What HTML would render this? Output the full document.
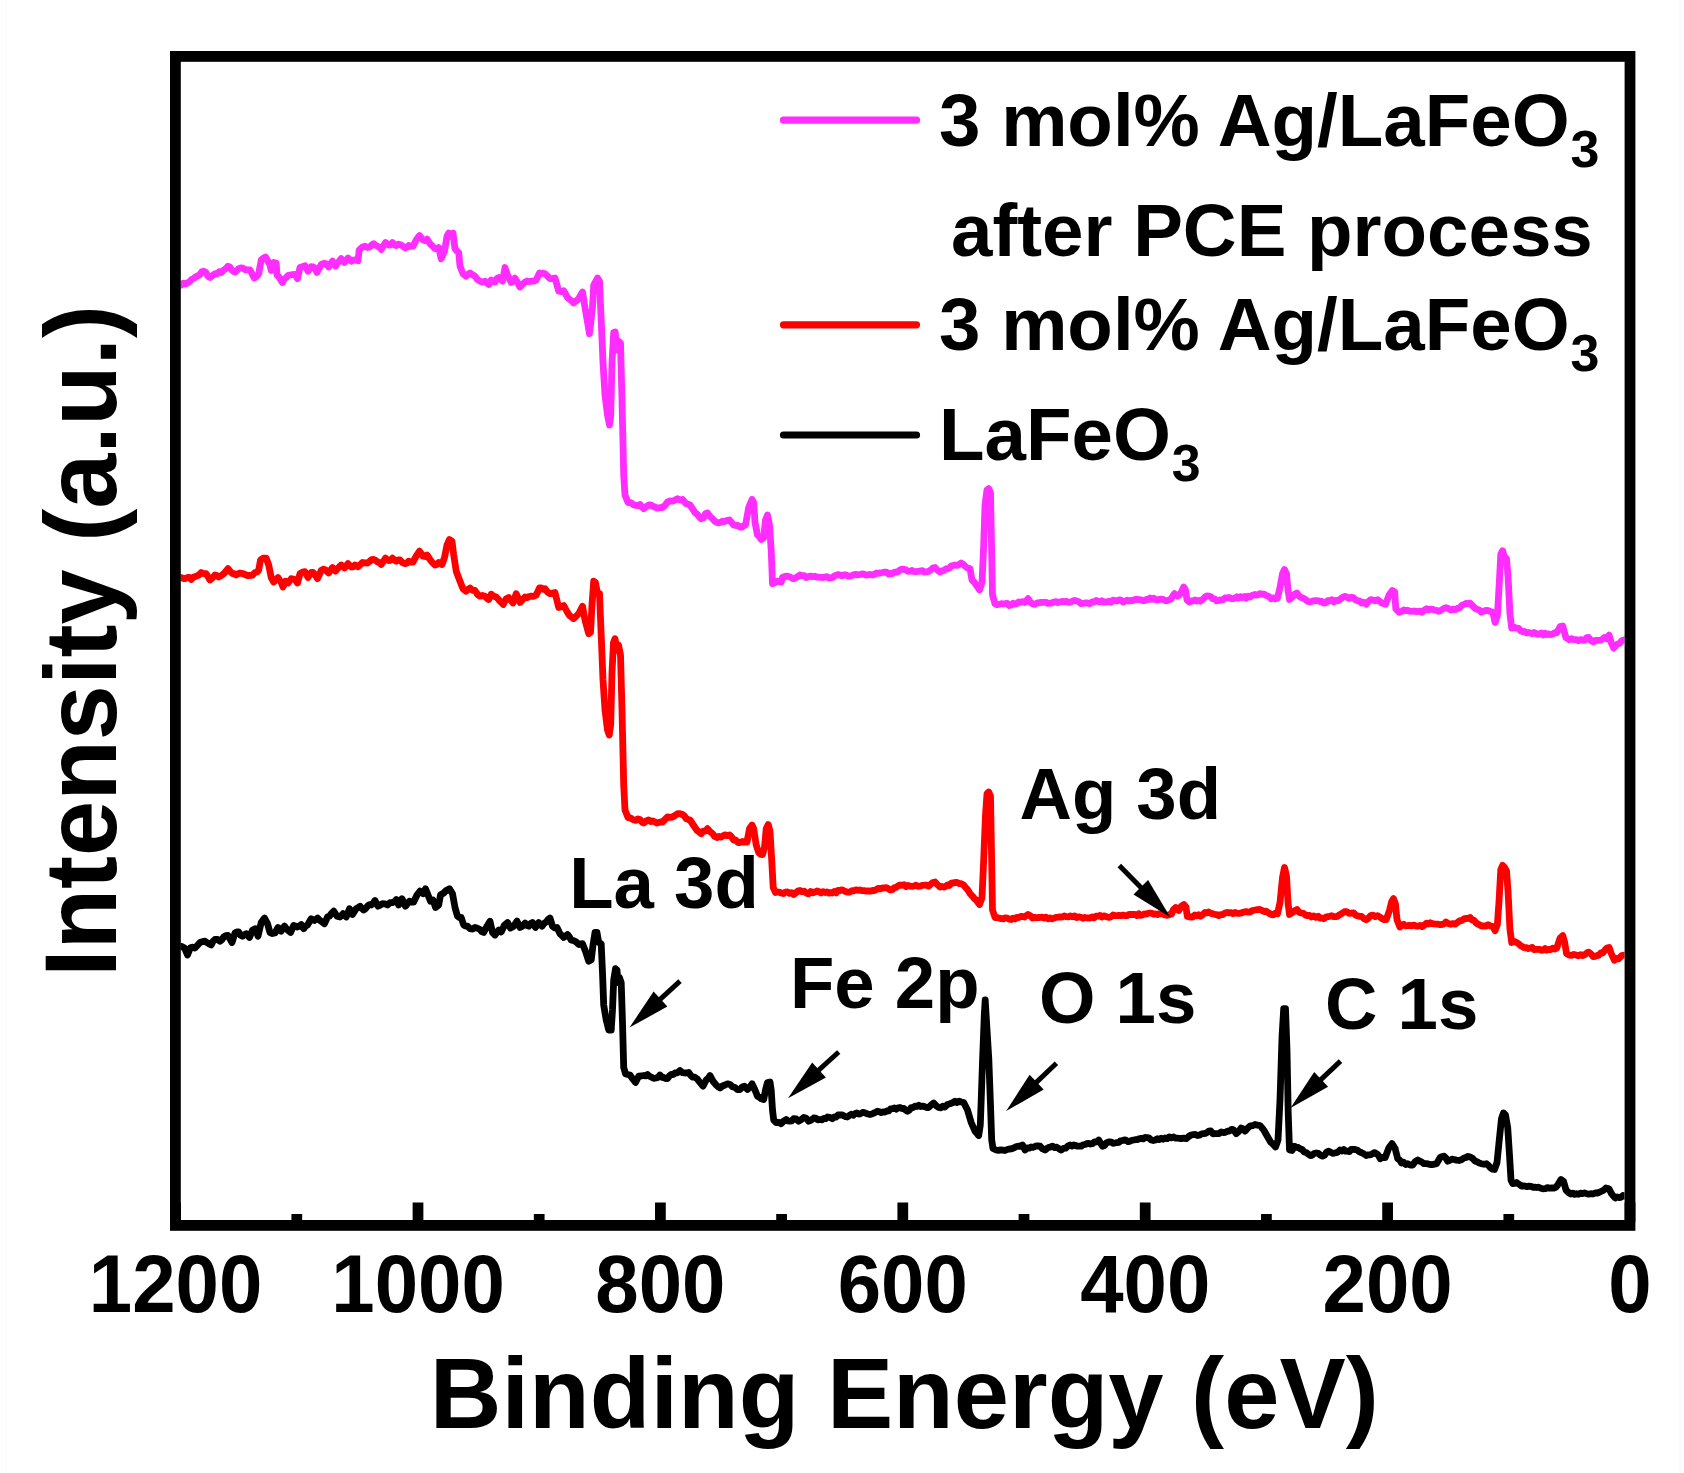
<!DOCTYPE html>
<html><head><meta charset="utf-8"><title>XPS survey spectra</title>
<style>html,body{margin:0;padding:0;background:#fff}figure{margin:0;width:1684px;height:1473px;overflow:hidden}svg{display:block}svg text{font-family:"Liberation Sans",sans-serif;font-weight:bold;fill:#000}</style></head>
<body>
<figure>
<svg width="1684" height="1473" viewBox="0 0 1684 1473" role="img" aria-label="XPS survey spectra of LaFeO3, 3 mol% Ag/LaFeO3 and 3 mol% Ag/LaFeO3 after PCE process">
<rect x="0" y="0" width="1684" height="1473" fill="#fff"/>
<rect x="1679" y="0" width="4" height="1473" fill="#fafbfd"/>
<rect x="6" y="0" width="1" height="1473" fill="#fbfbfd"/>
<defs><clipPath id="c"><rect x="180.5" y="62" width="1444" height="1158"/></clipPath></defs>
<g clip-path="url(#c)" fill="none" stroke-linejoin="round" stroke-linecap="round">
<polyline stroke="#ff2dff" stroke-width="6.8" points="181.2,285.0 183.4,283.2 185.6,283.9 187.8,282.7 190.0,281.2 192.0,279.2 193.9,278.3 195.9,276.8 197.8,275.8 199.8,274.7 201.7,271.7 203.7,271.2 205.8,272.3 207.9,276.1 210.0,277.5 212.5,275.5 215.0,273.7 217.1,273.9 219.1,271.8 221.2,272.5 223.5,270.3 225.7,268.8 228.0,266.2 229.9,267.1 231.8,270.1 233.6,271.4 235.5,272.0 238.7,268.7 240.8,267.9 242.9,268.2 245.0,269.5 247.5,269.8 250.0,270.0 254.2,278.0 256.4,276.8 258.7,273.7 261.2,260.0 263.4,258.2 265.5,257.0 270.0,265.0 271.2,270.5 273.7,262.5 276.2,263.0 277.0,275.0 278.8,276.9 280.7,279.8 282.5,282.5 284.4,279.0 286.2,277.5 288.1,275.6 290.0,275.0 292.5,274.6 295.0,274.5 297.5,278.7 300.0,267.5 302.5,266.6 305.0,265.7 308.0,271.2 311.2,266.7 313.1,266.8 315.0,268.0 317.0,272.5 321.2,264.5 323.7,263.5 326.2,263.7 328.7,267.0 332.5,261.2 335.5,266.2 337.4,263.1 339.3,261.1 341.2,258.7 344.5,262.5 348.0,258.0 351.2,261.2 353.1,260.1 355.0,260.0 358.0,260.7 359.2,250.0 362.5,247.0 365.0,246.2 367.5,247.5 369.6,247.0 371.6,245.1 373.7,243.7 375.6,245.3 377.5,246.2 379.4,247.2 381.2,249.5 385.5,242.5 388.7,245.0 390.6,244.8 392.5,242.5 394.4,244.8 396.2,245.5 398.1,244.2 400.0,244.5 402.5,245.9 405.0,248.0 406.9,247.2 408.7,245.5 410.9,246.3 413.0,246.2 416.2,240.0 419.5,235.5 423.0,240.0 425.0,240.6 427.0,239.2 430.0,243.7 432.5,246.0 435.0,248.7 436.9,248.8 438.7,247.5 441.2,258.7 444.5,251.2 447.0,236.2 448.7,233.0 450.5,236.2 453.0,233.0 455.0,248.7 456.9,251.0 458.7,252.5 460.0,266.2 463.0,273.7 466.2,276.2 468.1,274.2 470.0,273.0 472.5,274.8 475.0,276.2 477.5,279.5 480.0,281.2 482.5,282.0 485.0,281.2 486.9,282.9 488.7,284.5 491.2,280.0 493.1,281.2 495.0,282.0 496.9,278.7 498.7,277.5 500.6,278.8 502.5,281.2 505.0,267.5 507.0,273.7 511.2,282.5 513.1,281.0 515.0,278.2 520.0,287.0 522.5,284.3 525.0,282.0 527.1,281.0 529.1,281.6 531.2,281.2 533.7,281.0 536.2,280.0 539.5,273.0 541.3,273.6 543.2,273.2 545.0,273.7 547.5,276.1 550.0,278.7 552.5,278.4 555.0,278.0 558.7,291.2 561.2,291.6 563.7,290.7 567.5,297.5 569.6,299.4 571.6,300.9 573.7,303.0 576.2,300.8 578.7,298.7 582.5,292.0 585.0,307.5 589.5,333.7 592.5,307.5 593.7,285.0 597.5,278.0 599.5,281.2 601.2,320.0 603.0,362.5 605.0,395.0 607.5,415.0 609.5,425.0 610.7,415.0 612.0,362.5 613.7,332.5 615.2,332.0 617.0,350.0 618.5,341.2 620.5,343.0 622.0,400.0 623.7,475.0 625.0,495.0 628.0,502.5 629.9,502.3 631.8,503.2 633.7,505.0 635.8,505.3 637.9,505.7 640.0,504.5 641.9,506.8 643.7,508.7 646.2,506.6 648.7,505.0 650.8,504.9 652.9,506.3 655.0,507.0 656.9,508.2 658.8,507.8 660.6,507.5 662.5,507.5 665.0,505.5 667.5,502.0 670.0,501.0 672.5,501.2 675.0,500.0 677.5,498.7 680.0,500.1 682.5,499.5 684.4,501.8 686.2,503.7 688.1,504.3 690.0,505.0 695.0,512.5 697.1,514.1 699.1,516.7 701.2,518.7 703.3,517.8 705.4,513.8 707.5,513.0 710.0,516.5 712.5,518.7 714.8,521.3 717.0,522.5 718.8,522.9 720.7,522.2 722.5,521.2 724.8,521.5 727.2,520.4 729.5,520.0 731.6,522.6 733.7,525.0 735.8,525.5 737.9,525.4 740.0,527.0 741.8,527.1 743.7,525.8 745.5,525.0 748.7,507.5 752.0,499.5 753.7,502.5 755.0,522.5 757.5,535.0 759.4,536.6 761.2,539.5 763.7,537.5 765.5,520.0 767.5,515.0 769.5,525.0 771.2,550.0 772.5,583.7 775.0,582.5 777.5,581.2 779.4,581.6 781.2,582.0 782.5,577.5 785.0,576.5 787.5,576.2 789.6,576.7 791.6,578.0 793.7,578.7 795.8,577.7 797.9,576.5 800.0,575.0 802.1,575.7 804.1,575.6 806.2,577.5 808.4,576.6 810.6,576.1 812.8,576.7 815.0,576.2 817.0,577.2 819.0,577.2 821.0,577.3 823.0,577.5 825.0,577.0 826.9,576.6 828.8,578.0 830.6,577.8 832.5,577.5 834.4,576.0 836.2,575.2 838.1,574.6 840.0,575.0 842.0,575.8 844.0,574.9 846.0,574.9 848.0,576.2 850.0,576.2 852.0,575.5 854.0,574.6 856.0,574.4 858.0,574.9 860.0,574.5 862.1,573.9 864.2,574.2 866.2,575.2 868.3,574.7 870.4,574.5 872.5,575.0 874.5,574.4 876.5,573.0 878.5,573.3 880.5,572.8 882.5,572.5 884.5,572.1 886.5,572.1 888.5,574.1 890.5,573.5 892.5,573.7 894.4,572.1 896.2,572.1 898.1,571.6 900.0,570.0 902.0,569.2 904.0,569.4 906.0,569.9 908.0,571.4 910.0,571.2 912.0,570.5 914.0,571.7 916.0,571.6 918.0,571.3 920.0,571.2 922.2,570.6 924.4,572.2 926.5,571.9 928.7,571.2 930.8,570.0 932.9,568.1 935.0,567.5 937.5,570.1 940.0,572.0 941.9,570.9 943.8,570.5 945.6,569.1 947.5,568.7 949.4,568.1 951.2,565.9 953.1,565.5 955.0,565.0 957.1,565.4 959.1,564.5 961.2,563.0 963.1,564.2 965.0,566.2 967.5,568.2 970.0,568.7 972.0,580.0 974.1,582.1 976.2,585.0 979.5,590.0 982.0,582.5 983.7,545.0 985.0,505.0 987.0,490.0 988.7,488.7 990.5,492.5 991.5,545.0 992.5,595.0 995.0,603.7 997.1,604.7 999.1,604.2 1001.2,603.7 1003.2,603.8 1005.2,603.7 1007.2,603.4 1009.2,605.6 1011.2,605.0 1013.1,603.2 1015.0,604.2 1016.8,603.8 1018.7,602.0 1020.6,602.3 1022.6,601.6 1024.5,602.5 1028.0,598.7 1030.2,602.0 1032.5,603.7 1034.4,604.4 1036.2,603.5 1038.1,602.8 1040.0,602.5 1042.0,602.4 1044.0,602.4 1046.0,602.3 1048.0,603.4 1050.0,603.2 1052.0,602.8 1054.0,602.0 1056.0,601.6 1058.0,602.6 1060.0,602.0 1062.1,601.4 1064.2,601.7 1066.2,601.2 1068.3,602.3 1070.4,602.2 1072.5,601.2 1074.6,600.4 1076.7,601.1 1078.8,601.7 1080.8,603.5 1082.9,603.3 1085.0,603.0 1087.5,603.0 1090.0,603.7 1092.1,602.0 1094.1,602.0 1096.2,600.5 1098.1,601.4 1100.0,601.9 1101.8,600.8 1103.7,602.1 1105.6,601.9 1107.5,601.7 1109.4,601.4 1111.2,602.2 1113.1,600.2 1115.0,600.5 1117.0,601.1 1119.0,599.9 1121.0,600.2 1123.0,602.0 1125.0,601.2 1127.0,600.2 1129.0,601.1 1131.0,600.4 1133.0,600.6 1135.0,599.5 1136.9,599.5 1138.8,599.6 1140.6,599.8 1142.5,600.5 1144.4,600.7 1146.2,599.5 1148.1,599.6 1150.0,598.0 1151.9,599.4 1153.8,598.2 1155.6,599.6 1157.5,600.0 1159.4,599.3 1161.2,599.2 1163.1,599.4 1165.0,600.5 1167.1,600.7 1169.1,599.9 1171.2,598.7 1174.5,593.7 1177.5,596.2 1179.3,595.1 1181.2,592.5 1183.7,587.0 1185.5,590.0 1187.0,600.0 1189.5,602.0 1191.3,601.0 1193.2,600.9 1195.0,600.0 1196.8,601.0 1198.7,600.5 1200.5,601.2 1202.8,599.3 1205.0,597.0 1206.8,596.0 1208.7,596.2 1210.6,596.5 1212.5,598.7 1214.6,598.8 1216.6,600.8 1218.7,600.5 1220.8,599.8 1222.9,599.8 1225.0,598.0 1227.0,597.9 1229.0,597.5 1231.0,598.6 1233.0,598.7 1235.0,598.0 1236.9,596.8 1238.8,598.1 1240.6,596.7 1242.5,597.5 1244.4,596.5 1246.2,598.1 1248.1,596.1 1250.0,597.0 1252.5,595.2 1255.0,594.5 1257.5,595.2 1260.0,593.7 1262.1,594.1 1264.1,594.1 1266.2,595.5 1268.7,596.4 1271.2,598.7 1273.3,597.9 1275.4,598.8 1277.5,598.0 1280.0,587.5 1282.5,573.7 1284.5,569.5 1286.5,573.7 1288.0,590.0 1289.5,599.5 1292.5,597.0 1294.8,594.1 1297.0,593.0 1299.1,596.2 1301.2,597.5 1303.5,598.3 1305.7,599.7 1307.6,601.3 1309.5,601.8 1311.4,601.5 1313.7,600.8 1316.0,600.5 1318.3,600.8 1320.2,601.5 1322.1,601.5 1324.0,603.1 1325.9,602.7 1327.8,600.6 1329.7,600.8 1331.7,599.7 1333.7,601.9 1335.6,600.4 1337.6,600.8 1339.9,599.5 1342.2,597.7 1344.5,596.3 1346.8,597.0 1349.0,598.6 1351.3,597.3 1353.6,597.9 1355.5,599.8 1357.4,600.9 1359.3,600.8 1361.6,603.0 1363.9,602.3 1366.2,604.3 1368.5,601.4 1370.7,599.7 1373.0,600.0 1375.3,600.8 1377.6,599.7 1379.8,601.5 1382.1,603.1 1385.6,604.3 1389.0,595.1 1392.4,590.6 1394.7,591.7 1395.8,608.8 1399.2,612.3 1401.5,611.6 1403.8,610.0 1405.7,610.7 1407.6,610.2 1409.5,611.1 1411.8,611.4 1414.1,611.0 1416.4,611.6 1418.3,611.3 1420.2,611.1 1422.1,612.3 1424.3,610.1 1426.6,608.8 1428.5,610.0 1430.4,609.0 1432.3,609.3 1434.3,610.0 1436.3,610.3 1438.3,611.3 1440.3,610.7 1442.2,609.5 1444.1,608.3 1446.0,607.7 1448.3,608.5 1450.6,610.0 1452.9,609.1 1455.1,609.7 1457.4,608.4 1459.7,607.9 1462.0,605.2 1464.3,604.3 1466.2,603.5 1468.1,603.6 1470.0,603.1 1471.9,605.2 1473.8,607.1 1475.7,608.8 1477.6,609.4 1479.5,610.1 1481.4,612.3 1483.7,611.2 1485.9,610.3 1488.2,610.7 1490.5,611.6 1492.8,612.3 1495.1,622.5 1497.4,615.7 1499.0,588.3 1500.8,554.1 1502.6,550.7 1504.2,556.4 1506.5,558.6 1508.1,576.9 1509.9,613.4 1511.7,628.2 1514.2,627.3 1516.7,628.2 1518.6,628.4 1520.6,630.8 1522.5,631.7 1524.5,631.5 1526.5,632.9 1528.4,632.5 1530.4,632.8 1532.2,633.8 1534.1,632.5 1535.9,633.5 1537.8,634.3 1539.6,633.9 1541.4,633.0 1543.2,634.9 1545.1,633.2 1546.9,634.5 1548.7,633.9 1550.7,634.7 1552.7,634.1 1554.7,632.7 1556.7,632.8 1560.1,626.6 1562.8,626.0 1565.8,637.4 1569.2,639.6 1571.5,638.7 1573.8,639.6 1576.1,639.6 1578.4,640.8 1580.6,639.6 1582.9,640.3 1584.8,640.2 1586.7,637.6 1588.6,637.4 1590.9,640.6 1593.2,641.9 1595.1,640.3 1597.0,640.4 1598.9,640.3 1600.8,640.2 1602.7,639.0 1604.6,637.4 1606.9,639.0 1609.1,635.1 1611.4,643.1 1613.7,648.1 1617.1,644.2 1619.4,643.4 1621.7,640.8 1625.0,639.6"/>
<polyline stroke="#ff0000" stroke-width="6.8" points="181.2,577.5 183.3,578.5 185.4,578.5 187.5,577.5 189.3,577.5 191.2,579.5 193.7,576.9 196.2,576.2 198.7,575.1 201.2,572.5 203.7,573.6 206.2,573.7 210.0,580.0 212.5,577.9 215.0,575.0 216.8,575.6 218.7,577.0 221.2,575.6 223.7,573.7 225.8,571.4 228.0,568.7 230.2,571.4 232.5,573.7 234.3,573.6 236.2,575.0 238.1,573.8 240.0,573.0 242.5,573.5 245.0,574.5 247.5,575.5 250.0,575.5 252.5,575.1 255.0,572.5 256.9,572.2 258.7,570.0 260.5,560.0 263.0,558.2 266.2,558.2 268.7,565.0 271.2,577.5 273.7,582.0 275.9,579.8 278.0,577.5 281.2,582.5 283.0,587.0 285.5,581.2 288.0,583.0 291.2,578.7 293.1,579.0 295.0,579.5 297.5,583.0 300.0,573.7 302.5,572.2 305.0,571.7 308.0,577.5 311.2,572.5 313.1,572.5 315.0,574.5 317.5,578.7 321.2,570.5 323.4,569.2 325.5,570.0 328.7,573.0 330.6,570.2 332.5,567.5 335.5,571.2 337.4,568.7 339.3,566.8 341.2,565.0 344.5,568.0 348.0,563.7 351.2,567.0 353.1,566.9 355.0,565.0 358.0,566.7 360.2,564.7 362.5,562.5 365.0,562.9 367.5,563.0 369.6,561.3 371.6,559.6 373.7,559.5 375.6,560.4 377.5,562.0 379.4,562.5 381.2,564.5 383.4,561.4 385.5,558.2 388.7,560.5 390.6,560.4 392.5,558.2 394.4,560.1 396.2,561.2 398.1,559.9 400.0,560.0 402.5,562.7 405.0,563.7 406.9,563.1 408.7,561.2 410.9,562.1 413.0,562.0 416.2,556.2 419.5,551.2 423.0,556.2 425.0,556.5 427.0,555.0 430.0,559.5 432.5,562.8 435.0,565.0 436.9,564.4 438.7,562.5 442.0,564.5 444.5,557.5 447.0,545.0 449.5,539.5 452.0,541.2 453.7,555.0 456.2,571.2 460.0,581.2 463.0,588.7 466.2,591.2 468.1,589.3 470.0,588.0 472.5,590.3 475.0,590.5 477.5,594.4 480.0,596.2 482.5,595.5 485.0,596.2 486.9,598.4 488.7,599.5 491.2,594.2 493.7,596.1 496.2,597.0 498.1,599.0 500.0,601.2 503.2,604.5 506.2,598.7 508.7,597.5 510.9,600.3 513.0,603.0 516.2,593.7 520.0,602.5 522.5,599.7 525.0,597.0 527.1,597.7 529.1,596.5 531.2,596.2 533.7,596.3 536.2,595.0 539.5,588.0 541.3,587.9 543.2,589.3 545.0,588.7 547.5,592.1 550.0,593.7 552.5,593.0 555.0,592.5 558.7,607.5 561.2,606.6 563.7,605.5 567.5,612.5 569.6,615.5 571.6,617.1 573.7,618.7 576.2,616.2 578.7,613.7 582.5,606.2 585.0,620.0 588.7,633.7 590.5,632.5 592.0,605.0 593.7,581.2 595.5,582.5 597.5,593.7 599.5,593.7 601.2,635.0 603.0,680.0 605.0,710.0 607.5,730.0 609.2,735.0 610.7,725.0 612.0,672.5 613.5,642.5 615.0,638.7 617.0,650.0 618.5,645.0 620.5,655.0 622.0,710.0 623.7,785.0 625.0,810.0 628.0,817.5 629.9,817.7 631.8,818.8 633.7,820.0 635.8,820.3 637.9,818.9 640.0,819.5 641.9,822.1 643.7,823.0 646.2,821.0 648.7,820.0 650.8,821.6 652.9,820.9 655.0,822.0 656.9,823.0 658.8,822.5 660.6,822.0 662.5,822.0 665.0,819.5 667.5,817.0 670.0,817.3 672.5,817.0 675.0,815.5 677.5,813.7 680.0,813.7 682.5,814.5 684.4,816.0 686.2,818.7 688.1,819.4 690.0,820.0 695.0,827.5 697.1,830.5 699.1,831.9 701.2,833.7 703.3,831.1 705.4,831.1 707.5,828.7 710.0,831.7 712.5,833.7 714.8,836.5 717.0,837.5 718.8,836.4 720.7,837.2 722.5,836.2 724.8,834.8 727.2,835.7 729.5,835.0 731.6,837.0 733.7,840.0 735.8,840.2 737.9,842.5 740.0,842.5 742.3,841.5 744.7,842.2 747.0,842.0 749.5,828.7 752.0,825.0 753.7,828.7 756.2,845.0 758.7,852.5 760.6,854.3 762.5,854.5 764.5,847.5 766.2,828.7 768.2,824.5 770.0,831.2 771.7,860.0 773.2,887.5 775.5,892.5 777.4,892.1 779.3,892.2 781.2,893.0 783.3,893.5 785.4,892.2 787.5,892.0 789.6,893.3 791.6,892.6 793.7,894.5 795.8,892.9 797.9,891.1 800.0,890.5 802.1,891.7 804.1,891.2 806.2,893.0 808.4,893.8 810.6,891.5 812.8,892.8 815.0,892.0 817.0,891.0 819.0,891.7 821.0,893.0 823.0,891.6 825.0,892.5 826.9,891.9 828.8,893.2 830.6,892.6 832.5,893.0 834.4,891.4 836.2,892.8 838.1,890.4 840.0,890.5 842.0,889.8 844.0,890.8 846.0,891.7 848.0,892.2 850.0,892.0 852.0,890.7 854.0,890.8 856.0,889.8 858.0,890.3 860.0,890.0 862.1,890.7 864.2,890.7 866.2,891.1 868.3,890.9 870.4,891.2 872.5,890.5 874.5,890.5 876.5,889.4 878.5,888.4 880.5,888.9 882.5,888.0 884.5,887.9 886.5,887.7 888.5,888.8 890.5,890.0 892.5,889.5 894.4,887.6 896.2,887.4 898.1,885.9 900.0,885.0 902.0,885.3 904.0,884.7 906.0,886.7 908.0,885.4 910.0,886.2 912.0,886.4 914.0,886.0 916.0,885.1 918.0,886.3 920.0,886.2 922.2,885.4 924.4,885.2 926.5,885.2 928.7,886.2 930.8,884.1 932.9,882.5 935.0,882.0 937.5,884.8 940.0,887.0 941.9,886.5 943.8,887.1 945.6,886.5 947.5,885.0 949.4,885.5 951.2,883.2 953.1,883.0 955.0,882.5 957.1,882.4 959.1,883.5 961.2,883.7 963.7,885.0 965.6,887.5 967.5,889.5 970.0,893.5 972.5,896.2 974.4,898.6 976.2,900.0 979.5,904.5 982.0,897.5 983.7,860.0 985.5,815.0 987.0,793.7 988.7,792.0 990.5,796.2 991.5,852.5 992.5,910.0 995.0,917.5 997.1,917.4 999.1,918.1 1001.2,918.7 1003.2,918.9 1005.2,917.9 1007.2,918.2 1009.2,919.1 1011.2,919.5 1013.1,918.1 1015.0,919.0 1016.8,917.4 1018.7,917.5 1020.6,916.5 1022.6,916.5 1024.5,917.0 1028.0,914.5 1030.2,915.7 1032.5,918.0 1034.4,917.3 1036.2,917.8 1038.1,917.5 1040.0,917.5 1042.0,917.2 1044.0,918.0 1046.0,917.2 1048.0,918.8 1050.0,918.0 1052.0,918.8 1054.0,918.1 1056.0,917.3 1058.0,917.2 1060.0,917.0 1062.1,917.1 1064.2,915.9 1066.2,916.7 1068.3,916.9 1070.4,916.0 1072.5,916.7 1074.6,915.9 1076.7,917.6 1078.8,916.8 1080.8,917.3 1082.9,918.3 1085.0,917.5 1087.5,918.0 1090.0,918.0 1092.1,916.9 1094.1,917.9 1096.2,916.2 1098.1,916.1 1100.0,915.4 1101.8,917.0 1103.7,915.9 1105.6,916.4 1107.5,917.0 1109.4,917.4 1111.2,916.7 1113.1,915.0 1115.0,915.7 1117.0,915.6 1119.0,915.5 1121.0,915.7 1123.0,915.1 1125.0,915.7 1127.0,915.7 1129.0,914.3 1131.0,914.5 1133.0,914.5 1135.0,914.5 1136.9,915.6 1138.8,913.8 1140.6,915.4 1142.5,915.0 1144.4,913.8 1146.2,914.2 1148.1,913.3 1150.0,913.0 1151.9,913.3 1153.8,914.3 1155.6,913.9 1157.5,914.5 1159.4,913.8 1161.2,913.9 1163.1,914.0 1165.0,915.0 1167.2,915.4 1169.3,914.6 1171.5,914.0 1173.5,909.5 1175.7,907.5 1178.8,910.5 1181.5,906.0 1183.8,904.5 1186.0,907.0 1187.3,916.5 1190.0,917.0 1192.5,917.0 1195.0,915.0 1196.8,915.8 1198.7,914.8 1200.5,916.2 1202.8,914.7 1205.0,912.5 1206.8,912.9 1208.7,912.0 1210.6,913.3 1212.5,913.7 1214.6,914.3 1216.6,914.6 1218.7,915.5 1220.8,914.6 1222.9,914.5 1225.0,913.0 1227.0,912.4 1229.0,912.9 1231.0,912.7 1233.0,913.6 1235.0,912.5 1236.9,913.2 1238.8,913.5 1240.6,913.2 1242.5,912.5 1244.4,911.9 1246.2,911.7 1248.1,912.1 1250.0,912.0 1252.5,910.5 1255.0,910.0 1257.5,909.6 1260.0,909.5 1262.1,910.5 1264.1,911.6 1266.2,911.2 1268.7,913.0 1271.2,914.5 1273.3,914.9 1275.4,913.1 1277.5,913.7 1280.0,902.5 1282.5,877.5 1284.5,867.5 1286.5,876.2 1288.0,902.5 1289.5,914.5 1292.5,912.5 1294.8,910.7 1297.0,909.5 1299.1,912.3 1301.2,913.0 1303.5,913.3 1305.7,915.1 1307.6,915.6 1309.5,915.4 1311.4,917.0 1313.7,915.9 1316.0,917.4 1318.3,916.3 1320.2,918.1 1322.1,918.2 1324.0,918.6 1325.9,917.0 1327.8,916.6 1329.7,916.3 1331.7,915.7 1333.7,916.7 1335.6,916.7 1337.6,916.3 1339.9,914.6 1342.2,913.3 1344.5,911.7 1346.8,911.6 1349.0,913.3 1351.3,913.2 1353.6,912.9 1355.5,915.0 1357.4,915.7 1359.3,916.3 1361.6,916.5 1363.9,918.6 1366.2,919.7 1368.5,918.1 1370.7,915.6 1373.0,915.1 1375.3,916.5 1377.6,915.6 1379.8,917.0 1382.1,918.6 1384.2,919.6 1386.2,919.7 1389.4,910.6 1391.7,901.5 1393.5,898.7 1395.4,903.7 1397.0,919.7 1399.9,927.0 1401.8,925.4 1403.8,924.3 1405.7,925.8 1407.6,925.7 1409.5,925.4 1411.8,925.8 1414.1,925.1 1416.4,926.1 1418.3,926.1 1420.2,925.4 1422.1,926.6 1424.3,925.1 1426.6,923.1 1428.5,924.1 1430.4,922.7 1432.3,923.6 1434.3,923.9 1436.3,924.1 1438.3,924.2 1440.3,924.7 1442.2,924.3 1444.1,923.9 1446.0,922.0 1448.3,923.6 1450.6,924.3 1452.9,923.6 1455.1,924.1 1457.4,922.5 1459.7,920.8 1462.0,920.4 1464.3,918.6 1466.2,918.5 1468.1,918.4 1470.0,917.4 1471.9,919.9 1473.8,920.2 1475.7,922.5 1477.6,924.0 1479.5,924.7 1481.4,926.1 1483.7,926.0 1485.9,926.2 1488.2,924.7 1490.5,925.9 1492.8,926.6 1495.1,930.7 1497.4,924.3 1499.0,901.5 1500.8,869.5 1502.6,865.4 1504.4,867.2 1506.5,870.7 1508.1,892.3 1509.9,928.8 1511.7,942.5 1514.2,941.4 1516.7,942.5 1518.6,943.8 1520.6,945.7 1522.5,946.6 1524.5,947.8 1526.5,947.7 1528.4,948.5 1530.4,948.2 1532.2,947.4 1534.1,949.7 1535.9,949.4 1537.8,949.4 1539.6,949.4 1541.4,950.3 1543.2,950.2 1545.1,948.5 1546.9,950.1 1548.7,949.4 1550.7,949.7 1552.7,948.1 1554.7,949.0 1556.7,948.2 1560.1,938.0 1562.8,935.7 1564.7,942.5 1566.5,953.5 1569.2,955.1 1571.5,955.3 1573.8,954.4 1576.1,955.1 1578.4,955.9 1580.6,954.6 1582.9,955.5 1584.8,954.6 1586.7,953.1 1588.6,952.1 1590.9,953.9 1593.2,956.7 1595.1,956.3 1597.0,955.6 1598.9,955.1 1600.8,952.9 1602.7,953.1 1604.6,950.5 1606.8,948.1 1609.1,947.5 1611.4,953.9 1614.4,960.3 1616.3,958.5 1618.3,958.9 1621.7,955.7 1625.0,955.1"/>
<polyline stroke="#000" stroke-width="6.8" points="181.2,946.2 184.5,948.0 187.5,955.0 190.5,947.5 192.8,947.2 195.0,948.0 197.5,945.3 200.0,942.5 202.5,941.6 205.0,941.2 207.1,942.7 209.1,944.0 211.2,945.0 213.1,941.3 215.0,939.5 217.5,939.3 220.0,941.2 221.8,939.8 223.7,937.0 225.8,935.7 228.0,935.5 232.0,942.5 235.0,933.0 236.8,931.9 238.7,932.0 240.6,935.2 242.5,936.2 244.3,934.9 246.2,933.7 249.5,937.5 252.5,930.0 255.5,928.7 258.0,936.2 261.2,922.5 264.5,918.0 267.5,923.7 270.0,932.5 272.5,933.5 275.0,933.0 278.0,927.5 281.2,931.2 284.5,926.2 287.5,930.0 290.5,932.5 293.7,925.5 295.6,926.2 297.5,927.0 299.4,926.1 301.2,924.5 303.7,928.7 305.6,926.1 307.5,925.0 311.2,918.7 314.5,920.5 317.5,918.0 319.4,919.9 321.2,921.2 324.5,923.7 327.5,917.0 329.4,916.2 331.2,913.7 333.7,911.2 337.0,916.2 340.0,917.0 343.0,913.7 346.2,917.0 349.5,908.7 352.5,914.5 356.2,908.7 358.1,907.5 360.0,906.2 361.9,908.6 363.7,910.0 365.6,908.5 367.5,906.2 369.4,904.6 371.2,905.0 373.1,903.3 375.0,900.5 378.0,906.2 380.2,905.2 382.5,903.7 385.0,903.9 387.5,905.0 390.0,902.7 392.5,902.5 394.4,901.8 396.2,899.5 398.7,905.0 402.0,898.7 405.5,906.2 407.5,903.6 409.5,901.2 411.6,902.1 413.7,902.0 417.0,895.0 420.0,891.2 423.0,893.7 425.5,888.7 428.0,895.0 430.5,901.2 433.0,900.0 435.5,907.5 438.7,905.0 440.5,895.0 443.7,893.0 446.2,890.5 449.5,888.7 452.5,893.7 455.0,907.5 457.5,916.2 459.4,917.7 461.2,917.5 463.7,925.0 465.6,926.1 467.5,926.2 470.0,928.7 472.5,929.0 475.0,927.5 477.5,928.3 480.0,929.5 481.9,931.7 483.7,932.5 487.0,926.2 490.0,921.2 492.5,932.5 495.0,935.0 496.9,932.4 498.7,930.0 501.2,932.0 504.5,925.0 507.5,922.5 510.5,928.0 513.7,926.2 517.0,921.2 520.0,927.5 522.5,926.2 525.0,923.0 526.9,925.4 528.7,926.2 530.6,923.5 532.5,922.5 535.5,927.5 538.7,922.5 542.0,926.2 544.1,923.3 546.2,922.0 548.1,919.4 550.0,918.0 552.5,926.2 554.8,927.9 557.0,927.5 560.0,933.7 561.9,935.5 563.7,937.5 565.6,936.3 567.5,934.5 569.4,936.8 571.2,940.0 573.1,940.6 575.0,941.2 576.9,942.6 578.7,944.5 580.6,943.8 582.5,943.7 585.5,951.2 588.7,961.2 591.2,960.0 593.0,945.0 595.0,932.5 597.0,932.5 598.7,942.5 601.2,943.7 602.5,972.5 603.7,1005.0 606.2,1020.0 608.7,1030.0 611.2,1030.0 612.5,1010.0 613.7,980.0 615.5,968.7 617.0,970.0 618.0,982.5 619.5,977.5 621.2,982.5 622.5,1022.5 623.7,1067.5 625.5,1073.7 627.8,1074.5 630.0,1075.0 632.5,1078.7 635.5,1082.5 638.7,1076.2 641.2,1076.0 643.7,1075.5 645.6,1075.9 647.5,1074.5 649.4,1076.2 651.2,1077.0 653.7,1078.4 656.2,1078.0 658.1,1077.3 660.0,1075.0 661.9,1077.3 663.7,1077.5 665.6,1078.5 667.5,1078.7 669.4,1075.9 671.2,1074.5 673.1,1074.5 675.0,1073.0 677.5,1072.8 680.0,1070.5 682.5,1072.6 685.0,1073.0 686.9,1072.9 688.7,1072.5 690.6,1075.2 692.5,1077.0 694.8,1077.2 697.0,1078.7 700.0,1082.5 703.0,1086.2 706.2,1080.0 708.1,1078.5 710.0,1075.5 713.0,1081.2 716.2,1085.0 718.1,1086.7 720.0,1088.0 722.5,1086.0 725.0,1085.0 727.5,1083.8 730.0,1084.5 732.5,1086.8 735.0,1087.5 737.5,1089.6 740.0,1089.5 742.2,1086.9 744.5,1086.2 747.5,1089.5 749.8,1087.3 752.0,1083.7 754.5,1088.7 757.5,1096.2 759.4,1097.3 761.2,1098.7 763.7,1099.5 765.5,1090.0 767.5,1082.5 770.0,1082.0 771.2,1090.0 772.5,1110.0 773.7,1120.0 776.2,1122.5 778.7,1122.3 781.2,1123.7 783.7,1121.1 786.2,1119.5 788.1,1120.9 790.0,1121.2 791.9,1120.8 793.7,1118.7 796.2,1118.9 798.7,1121.2 801.2,1119.6 803.7,1117.5 806.2,1118.3 808.7,1121.2 811.2,1120.1 813.7,1118.0 815.8,1118.1 817.9,1119.8 820.0,1119.5 821.9,1119.9 823.8,1118.3 825.6,1118.7 827.5,1117.0 830.0,1117.4 832.5,1118.7 834.4,1116.8 836.2,1117.1 838.1,1114.9 840.0,1115.0 841.9,1114.8 843.8,1115.8 845.6,1116.7 847.5,1117.0 849.4,1115.4 851.2,1114.3 853.1,1115.3 855.0,1113.7 856.9,1113.0 858.8,1114.1 860.6,1113.7 862.5,1112.5 864.4,1112.7 866.2,1113.4 868.1,1114.0 870.0,1114.5 871.9,1114.0 873.8,1113.1 875.6,1112.2 877.5,1111.2 879.4,1111.7 881.2,1112.6 883.1,1111.8 885.0,1112.0 886.9,1111.0 888.8,1110.8 890.6,1108.9 892.5,1108.7 894.4,1108.0 896.2,1109.2 898.1,1107.8 900.0,1107.5 901.9,1108.5 903.8,1108.3 905.6,1110.1 907.5,1111.2 909.4,1110.1 911.2,1107.6 913.1,1107.7 915.0,1106.2 916.9,1106.5 918.8,1105.2 920.6,1106.5 922.5,1106.2 924.6,1106.6 926.6,1107.5 928.7,1107.5 931.2,1104.9 933.7,1103.0 936.2,1105.7 938.7,1107.5 940.8,1107.9 942.9,1106.1 945.0,1107.0 947.5,1104.4 950.0,1103.7 952.5,1102.8 955.0,1101.2 957.1,1102.5 959.1,1101.2 961.2,1102.0 963.7,1102.5 967.5,1110.0 971.2,1122.5 975.0,1131.2 976.9,1133.3 978.7,1135.5 980.3,1125.0 981.2,1100.0 982.6,1059.0 984.3,1015.0 985.2,1000.0 986.1,1015.0 988.8,1059.0 990.5,1105.0 991.7,1140.0 993.0,1148.5 996.2,1150.0 998.4,1150.3 1000.6,1149.9 1002.8,1150.1 1005.0,1150.5 1007.2,1149.5 1009.4,1149.0 1011.5,1148.8 1013.7,1148.0 1015.9,1146.8 1018.1,1146.2 1020.3,1146.3 1022.5,1145.0 1025.0,1150.0 1027.1,1148.0 1029.1,1148.2 1031.2,1147.0 1033.4,1147.3 1035.6,1146.2 1037.8,1145.8 1040.0,1146.2 1042.5,1148.8 1045.0,1150.0 1046.9,1148.5 1048.8,1147.4 1050.6,1147.0 1052.5,1146.2 1054.7,1147.6 1056.8,1147.2 1059.0,1148.7 1061.2,1150.0 1063.4,1148.4 1065.6,1148.2 1067.8,1146.1 1070.0,1145.0 1071.9,1146.1 1073.8,1144.9 1075.6,1145.5 1077.5,1146.2 1079.4,1146.1 1081.2,1146.2 1083.1,1144.8 1085.0,1144.5 1086.9,1143.7 1088.8,1143.3 1090.6,1144.0 1092.5,1143.7 1094.6,1141.8 1096.6,1141.9 1098.7,1140.0 1102.5,1146.2 1104.6,1145.5 1106.6,1142.7 1108.7,1142.0 1110.8,1141.8 1112.9,1143.3 1115.0,1143.0 1116.9,1142.7 1118.8,1142.4 1120.6,1140.8 1122.5,1140.5 1124.4,1139.9 1126.2,1140.4 1128.1,1141.7 1130.0,1141.2 1131.9,1140.3 1133.8,1140.0 1135.6,1139.7 1137.5,1139.5 1139.4,1138.8 1141.2,1138.3 1143.1,1138.9 1145.0,1137.5 1147.1,1137.6 1149.1,1138.1 1151.2,1140.0 1153.3,1140.5 1155.4,1140.0 1157.5,1138.7 1159.4,1139.6 1161.2,1138.2 1163.1,1139.2 1165.0,1138.0 1167.2,1138.7 1169.3,1136.9 1171.5,1137.8 1173.7,1137.0 1175.6,1138.2 1177.5,1138.2 1179.3,1138.3 1181.2,1138.7 1183.7,1138.2 1186.2,1138.7 1188.7,1136.5 1191.2,1135.0 1193.3,1134.6 1195.4,1134.4 1197.5,1135.5 1199.6,1135.1 1201.6,1133.8 1203.7,1133.7 1206.2,1133.1 1208.7,1131.2 1210.8,1131.0 1212.9,1133.8 1215.0,1133.7 1217.1,1133.6 1219.1,1133.5 1221.2,1132.0 1223.3,1132.6 1225.4,1132.3 1227.5,1131.2 1229.6,1131.0 1231.6,1129.3 1233.7,1130.0 1236.2,1133.7 1238.7,1131.4 1241.2,1128.0 1243.1,1128.9 1245.0,1131.2 1247.5,1128.3 1250.0,1126.2 1252.5,1125.7 1255.0,1124.5 1257.5,1125.1 1260.0,1125.5 1261.8,1127.6 1263.7,1130.0 1268.7,1138.7 1270.6,1142.2 1272.5,1143.7 1275.5,1147.0 1278.0,1140.0 1280.0,1100.0 1282.0,1037.5 1283.7,1008.7 1285.5,1008.7 1287.0,1050.0 1288.2,1112.5 1289.5,1150.0 1292.0,1150.5 1294.5,1146.2 1296.3,1147.3 1298.2,1147.5 1300.0,1148.7 1302.1,1149.4 1304.1,1152.0 1306.2,1152.5 1308.1,1153.9 1310.0,1155.5 1312.1,1155.3 1314.1,1153.5 1316.2,1153.0 1318.3,1153.4 1320.4,1155.2 1322.5,1156.2 1324.6,1155.2 1326.6,1152.1 1328.7,1151.2 1330.8,1152.4 1332.9,1153.3 1335.0,1153.0 1337.5,1152.2 1340.0,1150.0 1341.9,1151.0 1343.8,1149.5 1345.6,1151.2 1347.5,1151.2 1349.4,1151.6 1351.2,1149.4 1353.1,1149.4 1355.0,1149.5 1357.1,1150.0 1359.1,1151.6 1361.2,1152.5 1363.7,1153.8 1366.2,1155.5 1368.3,1154.8 1370.4,1154.9 1372.5,1153.7 1374.5,1152.6 1376.5,1153.7 1378.3,1155.2 1380.2,1158.7 1382.7,1157.3 1385.2,1157.5 1389.0,1147.5 1392.0,1143.7 1395.2,1148.7 1397.7,1158.7 1399.6,1160.0 1401.5,1163.0 1403.6,1162.3 1405.6,1164.5 1407.7,1163.7 1410.2,1165.1 1412.7,1165.0 1415.2,1161.6 1417.7,1160.0 1419.8,1161.2 1421.9,1162.1 1424.0,1163.7 1426.1,1163.6 1428.1,1163.9 1430.2,1164.5 1432.3,1164.6 1434.4,1164.2 1436.5,1163.7 1440.2,1157.5 1442.1,1156.5 1444.0,1156.2 1445.8,1158.0 1447.7,1161.2 1449.8,1160.3 1451.9,1159.2 1454.0,1159.5 1456.5,1160.1 1459.0,1160.5 1461.5,1159.7 1464.0,1158.0 1466.1,1157.4 1468.1,1156.4 1470.2,1157.0 1472.7,1158.4 1475.2,1161.2 1477.3,1161.8 1479.4,1163.1 1481.5,1163.7 1484.0,1164.3 1486.5,1163.7 1488.3,1165.3 1490.2,1167.5 1492.3,1169.2 1494.5,1169.5 1497.0,1162.5 1499.0,1142.5 1501.5,1118.7 1503.5,1113.0 1505.5,1115.0 1507.7,1127.5 1509.5,1155.0 1511.0,1180.0 1512.7,1183.7 1514.6,1183.4 1516.5,1182.5 1519.0,1184.2 1521.5,1186.2 1523.4,1185.9 1525.2,1186.2 1527.1,1186.6 1529.0,1186.2 1530.9,1186.4 1532.8,1187.3 1534.6,1187.1 1536.5,1187.5 1538.7,1187.2 1540.8,1188.2 1543.0,1188.8 1545.2,1188.7 1547.4,1187.6 1549.6,1188.2 1551.8,1188.0 1554.0,1188.0 1555.8,1187.3 1557.7,1185.0 1561.0,1179.5 1563.5,1181.2 1566.0,1190.0 1569.0,1193.0 1570.9,1194.1 1572.8,1193.1 1574.6,1194.4 1576.5,1193.7 1578.5,1194.3 1580.5,1193.2 1582.5,1193.6 1584.5,1192.9 1586.5,1193.7 1588.7,1194.2 1590.8,1193.7 1593.0,1194.0 1595.2,1193.0 1597.3,1193.0 1599.4,1192.2 1601.5,1191.2 1603.8,1190.1 1606.0,1188.0 1609.0,1188.7 1611.5,1193.7 1613.3,1196.0 1615.2,1198.0 1617.1,1196.9 1619.0,1197.5 1621.0,1197.3 1623.0,1195.5 1625.0,1196.2"/>
</g>
<path d="M1630.0,1222V1202.5 M1508.8,1222V1214 M1387.6,1222V1202.5 M1266.4,1222V1214 M1145.2,1222V1202.5 M1024.0,1222V1214 M902.8,1222V1202.5 M781.6,1222V1214 M660.4,1222V1202.5 M539.2,1222V1214 M418.0,1222V1202.5 M296.8,1222V1214 M175.6,1222V1202.5" stroke="#000" stroke-width="10.75" fill="none"/>
<rect x="175.4" y="56.4" width="1454.6" height="1169" fill="none" stroke="#000" stroke-width="10.8"/>
<text transform="translate(1630.0,1311.7) scale(1,1.035)"  font-size="78" text-anchor="middle">0</text>
<text transform="translate(1387.6,1311.7) scale(1,1.035)"  font-size="78" text-anchor="middle">200</text>
<text transform="translate(1145.2,1311.7) scale(1,1.035)"  font-size="78" text-anchor="middle">400</text>
<text transform="translate(902.8,1311.7) scale(1,1.035)"  font-size="78" text-anchor="middle">600</text>
<text transform="translate(660.4,1311.7) scale(1,1.035)"  font-size="78" text-anchor="middle">800</text>
<text transform="translate(418.0,1311.7) scale(1,1.035)"  font-size="78" text-anchor="middle">1000</text>
<text transform="translate(175.6,1311.7) scale(1,1.035)"  font-size="78" text-anchor="middle">1200</text>
<text x="904.25" y="1428.3"  font-size="99.3" text-anchor="middle">Binding Energy (eV)</text>
<text transform="translate(115.8,641) rotate(-90) scale(0.9673,1)"  font-size="102.5" text-anchor="middle">Intensity (a.u.)</text>
<line x1="783.5" y1="120.2" x2="916.5" y2="120.2" stroke="#ff2dff" stroke-width="7.2" stroke-linecap="round"/>
<line x1="783.5" y1="324.8" x2="916.5" y2="324.8" stroke="#ff0000" stroke-width="7.2" stroke-linecap="round"/>
<line x1="783.5" y1="435" x2="916.5" y2="435" stroke="#000" stroke-width="7.2" stroke-linecap="round"/>
<text x="939" y="145.8"  font-size="74.5">3 mol% Ag/LaFeO<tspan font-size="52" dy="21" dx="1">3</tspan></text>
<text x="951" y="255.8"  font-size="74.5">after PCE process</text>
<text x="939" y="349.8"  font-size="74.5">3 mol% Ag/LaFeO<tspan font-size="52" dy="21" dx="1">3</tspan></text>
<text x="939" y="460.3"  font-size="74.5">LaFeO<tspan font-size="52" dy="21" dx="1">3</tspan></text>
<text transform="translate(569.3,908) scale(1.015,1)"  font-size="71.5">La 3d</text>
<text transform="translate(1019.5,819) scale(1.015,1)"  font-size="71.5">Ag 3d</text>
<text transform="translate(790,1007.9) scale(1.015,1)"  font-size="71.5">Fe 2p</text>
<text transform="translate(1039,1023.2) scale(1.015,1)"  font-size="71.5">O 1s</text>
<text transform="translate(1325,1028.8) scale(1.015,1)"  font-size="71.5">C 1s</text>
<line x1="1119.3" y1="865.5" x2="1142.9" y2="889.4" stroke="#000" stroke-width="5.0"/><polygon points="1170.3,917.2 1133.5,894.5 1148.1,880.1" fill="#000"/>
<line x1="680.0" y1="981.2" x2="658.2" y2="1001.1" stroke="#000" stroke-width="5.0"/><polygon points="629.5,1027.5 653.6,991.6 667.4,1006.6" fill="#000"/>
<line x1="838.7" y1="1052.0" x2="816.8" y2="1071.9" stroke="#000" stroke-width="5.0"/><polygon points="788.0,1098.2 812.2,1062.4 825.9,1077.5" fill="#000"/>
<line x1="1056.4" y1="1063.3" x2="1034.5" y2="1084.1" stroke="#000" stroke-width="5.0"/><polygon points="1006.2,1111.0 1029.6,1074.7 1043.7,1089.5" fill="#000"/>
<line x1="1340.5" y1="1061.2" x2="1319.0" y2="1081.3" stroke="#000" stroke-width="5.0"/><polygon points="1290.5,1108.0 1314.2,1071.9 1328.1,1086.7" fill="#000"/>
</svg>
</figure>
</body></html>
